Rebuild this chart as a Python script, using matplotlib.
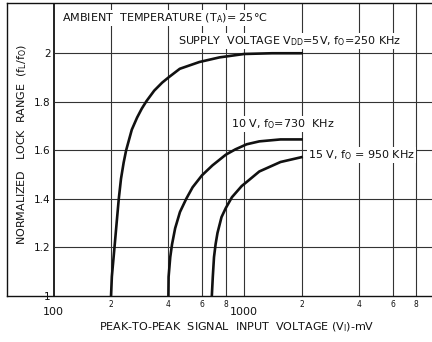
import matplotlib
matplotlib.use("Agg")
import matplotlib.pyplot as plt

# curves (x in mV, y = f_L / f_O)
v5_x = [200, 202, 208.5, 214.5, 219.6, 225.6, 233, 240, 257, 274, 290, 307, 337, 371, 400, 459, 582, 742, 1000, 1400, 2000]
v5_y = [1.0, 1.08, 1.2, 1.31, 1.4, 1.483, 1.55, 1.6, 1.685, 1.735, 1.772, 1.803, 1.846, 1.879, 1.9, 1.936, 1.964, 1.983, 1.997, 2.0, 2.0]

v10_x = [400, 401, 409, 418, 434, 460, 496, 536, 600, 681, 800, 898, 1030, 1200, 1550, 2000]
v10_y = [1.0, 1.079, 1.16, 1.213, 1.279, 1.346, 1.4, 1.448, 1.497, 1.538, 1.582, 1.604, 1.625, 1.637, 1.645, 1.645]

v15_x = [676, 684, 694, 708, 724, 760, 800, 862, 970, 1053, 1200, 1550, 2000]
v15_y = [1.0, 1.079, 1.16, 1.215, 1.26, 1.325, 1.362, 1.407, 1.453, 1.476, 1.513, 1.552, 1.572]

vgrid = [200, 400, 600, 800, 1000, 2000, 4000, 6000, 8000]
hgrid = [1.2, 1.4, 1.6, 1.8, 2.0]

yticks = [1, 1.2, 1.4, 1.6, 1.8, 2]
ylabels = ["1", "1.2", "1.4", "1.6", "1.8", "2"]
xmajor = [100, 1000]
xmajor_labels = ["100", "1000"]
xminor = [200, 400, 600, 800, 2000, 4000, 6000, 8000]
xminor_labels = ["2", "4", "6", "8", "2", "4", "6", "8"]

W, H = 432, 342
fig = plt.figure(figsize=(W / 100, H / 100), dpi=100)
ax = fig.add_axes([7 / W, 46 / H, 1 - 7 / W, 293 / H])
ax.set_xscale("log")
ax.set_xlim(56.9, 9668)
ax.set_ylim(1, 2.207)

ink = "#111111"
for s in ["top", "bottom", "left"]:
    ax.spines[s].set_color(ink)
    ax.spines[s].set_linewidth(1.0)
ax.spines["right"].set_visible(False)

# grid, drawn only inside the 100 mV line
ax.vlines(100, 1, 2.207, color=ink, lw=1.3, zorder=1)
ax.vlines(vgrid, 1, 2.207, color="#333333", lw=0.8, zorder=1)
ax.hlines(hgrid, 100, 9668, color="#333333", lw=0.8, zorder=1)

for xs, ys in [(v5_x, v5_y), (v10_x, v10_y), (v15_x, v15_y)]:
    ax.plot(xs, ys, color=ink, lw=1.9, zorder=3, solid_joinstyle="round")

ax.set_xticks(xmajor, xmajor_labels)
ax.set_xticks(xminor, xminor_labels, minor=True)
ax.set_yticks(yticks, ylabels)
ax.tick_params(which="both", length=0, colors=ink)
ax.tick_params(axis="x", which="major", labelsize=8, pad=8)
ax.tick_params(axis="x", which="minor", labelsize=5.5, pad=3)
ax.tick_params(axis="y", labelsize=7.5, pad=-31.5)

box = dict(facecolor="white", edgecolor="none", pad=1.0)
sub = lambda s: r"$_\mathregular{" + s + "}$"
fs = 8

fig.text(62 / W, 1 - 18 / H, "AMBIENT  TEMPERATURE (T" + sub("A") + ")= 25°C",
         fontsize=fs, color=ink, va="center", ha="left", bbox=box, zorder=4)
fig.text(178 / W, 1 - 41 / H, "SUPPLY  VOLTAGE V" + sub("DD") + "=5V, f" + sub("O") + "=250 KHz",
         fontsize=fs, color=ink, va="center", ha="left", bbox=box, zorder=4)
fig.text(231 / W, 1 - 124 / H, "10 V, f" + sub("O") + "=730  KHz",
         fontsize=fs, color=ink, va="center", ha="left", bbox=box, zorder=4)
fig.text(308 / W, 1 - 155 / H, "15 V, f" + sub("O") + " = 950 KHz",
         fontsize=fs, color=ink, va="center", ha="left", bbox=box, zorder=4)

fig.text(22 / W, 1 - 144 / H, "NORMALIZED   LOCK  RANGE  (f" + sub("L") + "/f" + sub("O") + ")",
         fontsize=fs, color=ink, rotation=90, va="center", ha="center")
fig.text(237 / W, 1 - 327 / H, "PEAK-TO-PEAK  SIGNAL  INPUT  VOLTAGE (V" + sub("I") + ")-mV",
         fontsize=fs, color=ink, va="center", ha="center")

fig.savefig("out.png", dpi=100)
